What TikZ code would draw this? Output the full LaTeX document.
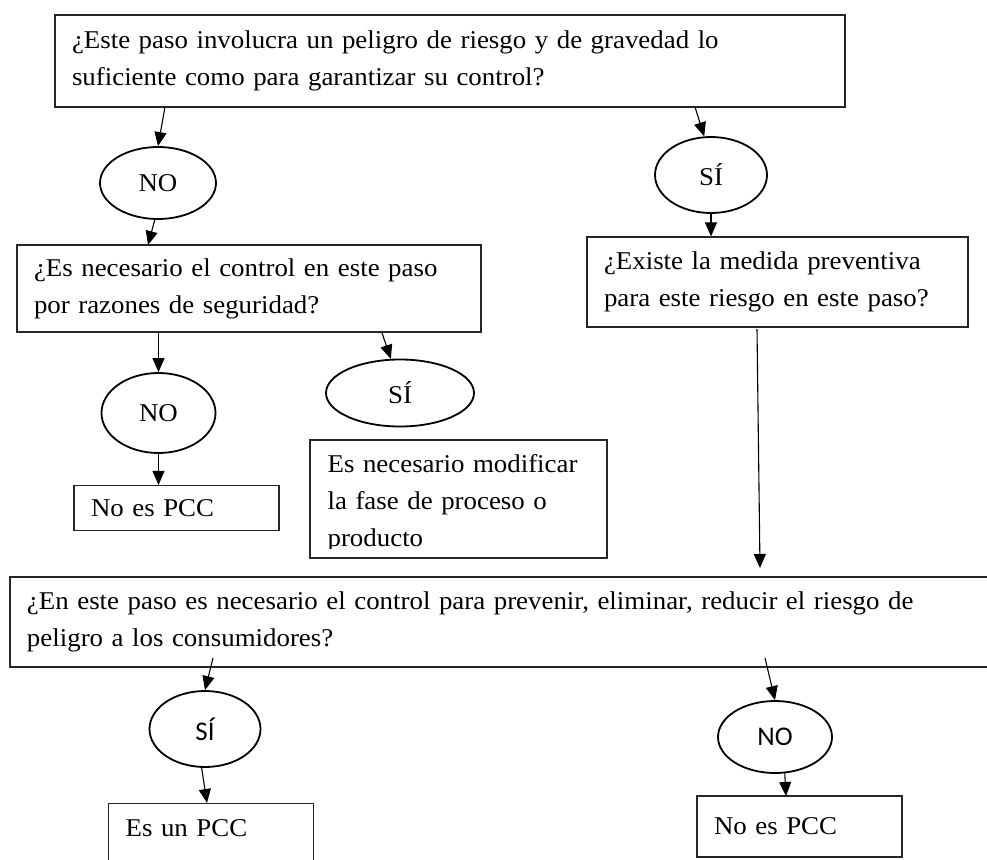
\documentclass[tikz,border=0pt]{standalone}
\usepackage{fontspec}
\setmainfont[FakeStretch=1.05]{Liberation Serif}
\newfontfamily\calib{Carlito}
\usetikzlibrary{arrows.meta,shapes.geometric}

\begin{document}
\begin{tikzpicture}[x=1pt,y=-1pt,
  box/.style={draw=black!85, line width=1.2pt, rectangle, inner xsep=17pt,
    inner ysep=0pt, align=left, font=\fontsize{25.6}{37}\selectfont},
  oval/.style={draw, ellipse, line width=1.8pt, inner sep=0pt,
    font=\fontsize{25.6}{30}\selectfont},
  sansoval/.style={oval, font=\calib\fontsize{27}{30}\selectfont},
  link/.style={line width=1.1pt, -{Triangle[length=14pt,width=12pt]}},
]
\useasboundingbox (0,0) rectangle (987,859);
\fill[white] (0,0) rectangle (987,859);
\clip (0,0) rectangle (987,859);

% first question and its two answers
\node[box, minimum height=92pt, text width=756pt] (b1) at (450,61)
  {¿Este paso involucra un peligro de riesgo y de gravedad lo\\suficiente como para garantizar su control?};
\node[oval, minimum width=116pt, minimum height=72pt] (n1) at (158,183) {NO};
\node[oval, minimum width=112pt, minimum height=76pt] (s1) at (711,175) {SÍ};

% NO branch
\node[box, minimum height=87pt, text width=430pt] (b2) at (249,288.5)
  {¿Es necesario el control en este paso\\por razones de seguridad?};
\node[oval, minimum width=114pt, minimum height=80pt] (n2) at (158.5,413) {NO};
\node[oval, minimum width=148pt, minimum height=67pt] (s2) at (400,393) {SÍ};
\node[box, minimum height=45pt, text width=171pt] (b4) at (176.5,508) {No es PCC};
\node[box, minimum width=297pt, minimum height=118pt] (b6) at (458.5,499) {};
\begin{scope}
  \clip (310,440) rectangle (607,548);
  \node[box, draw=none, text width=263pt, anchor=west] (b6t) at (310,503)
    {Es necesario modificar\\la fase de proceso o\\producto};
\end{scope}

% SI branch
\node[box, minimum height=90pt, text width=347pt] (b3) at (777.5,282)
  {¿Existe la medida preventiva\\para este riesgo en este paso?};

% final question
\node[box, minimum height=90pt, text width=956pt] (b5) at (505,622)
  {¿En este paso es necesario el control para prevenir, eliminar, reducir el riesgo de\\peligro a los consumidores?};
\node[sansoval, minimum width=111pt, minimum height=76pt] (s3) at (205,729) {SÍ};
\node[sansoval, minimum width=114pt, minimum height=72pt] (n3) at (775,737) {NO};
\node[box, anchor=north west, text width=171pt, text height=23pt, text depth=60pt,
  inner ysep=10pt] (b7) at (108,803) {Es un PCC};
\node[box, minimum height=61pt, text width=171pt] (b8) at (799.5,826.5) {No es PCC};

% arrow end points
\coordinate (p1) at (165,107);
\coordinate (p2) at (148,245);
\coordinate (p3) at (695,107);
\coordinate (p4) at (382,333);
\coordinate (p5) at (757,329);
\coordinate (p6) at (760,568);
\coordinate (p7) at (213,658);
\coordinate (p8) at (207,803);
\coordinate (p9) at (765,658);
\coordinate (p10) at (786,796);

\draw[link] (p1) -- (n1.north);
\draw[link] (n1.265) -- (p2);
\draw[link] (p3) -- (s1.100);
\draw[link] (s1.south) -- (s1.south |- b3.north);
\draw[link] (n2.north |- b2.south) -- (n2.north);
\draw[link] (n2.south) -- (n2.south |- b4.north);
\draw[link] (p4) -- (s2.105);
\draw[link] (p5) -- (p6);
\draw[link] (p7) -- (s3.north);
\draw[link] (s3.265) -- (p8);
\draw[link] (p9) -- (n3.north);
\draw[link] (n3.-75) -- (p10);
\end{tikzpicture}
\end{document}
